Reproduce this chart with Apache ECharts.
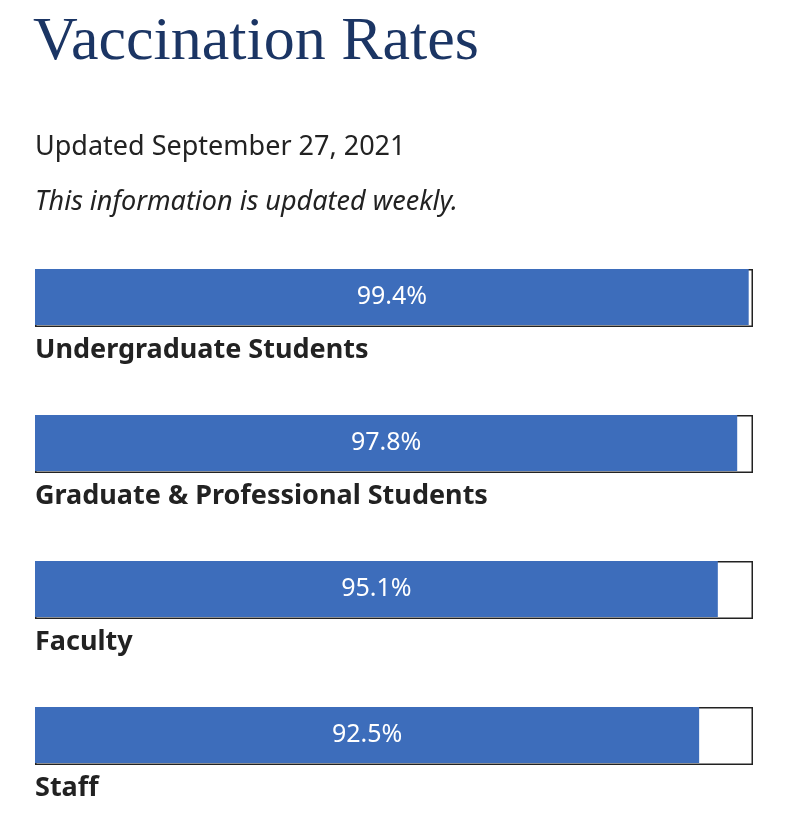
<!DOCTYPE html>
<html><head><meta charset="utf-8">
<script src="https://cdn.jsdelivr.net/npm/echarts@6/dist/echarts.min.js"></script>
<style>html,body{margin:0;padding:0;background:#fff}#c{width:808px;height:826px}</style>
</head><body><div id="c"></div>
<script>
var categories = ["Undergraduate Students","Graduate & Professional Students","Faculty","Staff"];
var rates = [99.4, 97.8, 95.1, 92.5];
var full = [100, 100, 100, 100];
var chart = echarts.init(document.getElementById('c'));
chart.setOption({
  animation:false,
  title:[
    {text:'Vaccination Rates',left:33,top:12,padding:0,textStyle:{fontFamily:'Liberation Serif, DejaVu Serif, serif',fontWeight:'normal',fontSize:62,color:'#1b3564'}},
    {text:'Updated September 27, 2021',left:35,top:134,padding:0,textStyle:{fontFamily:'Noto Sans, sans-serif',fontWeight:'normal',fontSize:27,color:'#222'}},
    {text:'This information is updated weekly.',left:35,top:189,padding:0,textStyle:{fontFamily:'Noto Sans, sans-serif',fontWeight:'normal',fontStyle:'italic',fontSize:27,color:'#222'}}
  ],
  grid:{left:35,right:55,top:224,height:584},
  xAxis:{type:'value',min:0,max:100,show:false},
  yAxis:{type:'category',data:categories,inverse:true,show:false},
  series:[
    {type:'bar',data:full,barWidth:58,barGap:'-100%',silent:true,z:1,
     itemStyle:{color:'#fff',borderColor:'#222',borderWidth:1.5},
     label:{show:true,position:[0,68],formatter:function(p){return categories[p.dataIndex];},
       fontFamily:'Noto Sans, sans-serif',fontWeight:'bold',fontSize:27,color:'#222',verticalAlign:'top',align:'left'}},
    {type:'bar',data:rates,barWidth:56,z:2,itemStyle:{color:'#3d6dbb'},
     label:{show:true,position:'inside',formatter:function(p){return p.value+'%';},
       fontFamily:'Noto Sans, sans-serif',fontSize:25,color:'#fff'}}
  ]
});
</script></body></html>
